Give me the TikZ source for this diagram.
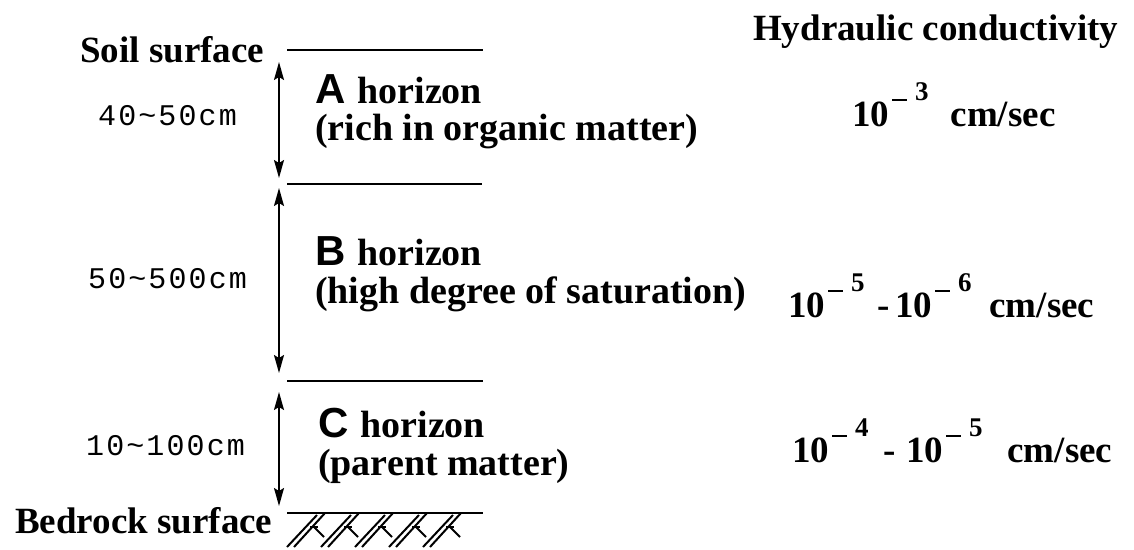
\documentclass[tikz,border=0pt]{standalone}
\usepackage{fontspec}
\setmainfont{Liberation Serif}
\newfontfamily\hsans{Liberation Sans}
\newfontfamily\monofam{Liberation Mono}[LetterSpace=7]
\usetikzlibrary{arrows.meta}
\newcommand\expo[1]{\kern3pt\rule[25pt]{15pt}{1.8pt}\kern8pt\raisebox{26pt}{\fontsize{27}{27}\selectfont #1}}
\newcommand\hl[1]{{\hsans\fontsize{42}{42}\selectfont #1}\kern12pt}
\begin{document}
\begin{tikzpicture}[x=1pt,y=-1pt,
  lbl/.style={inner sep=0pt, anchor=base west, font=\fontsize{37}{40}\selectfont\bfseries},
  hz/.style={inner sep=0pt, anchor=base west, font=\fontsize{38}{40}\selectfont\bfseries},
  dimtxt/.style={inner sep=0pt, anchor=base west, font=\monofam\fontsize{30}{30}\selectfont},
  surf/.style={line width=2.2pt},
  dimarrow/.style={line width=1.7pt, {Stealth[length=18pt,width=10pt,inset=3pt]}-{Stealth[length=18pt,width=10pt,inset=3pt]}},
  hatch/.style={line width=2pt}]
\useasboundingbox (0,0) rectangle (1134,549);
\fill[white] (0,0) rectangle (1134,549);

% left labels
\node[lbl] (soil) at (80,62) {Soil surface};
\node[lbl] (bed) at (15,533) {Bedrock surface};
\node[dimtxt] (dA) at (98,125) {40\textasciitilde 50cm};
\node[dimtxt] (dB) at (88,288) {50\textasciitilde 500cm};
\node[dimtxt] (dC) at (86,455) {10\textasciitilde 100cm};

% horizon lines
\coordinate (l0w) at (287,50);  \coordinate (l0e) at (483,50);
\coordinate (l1w) at (287,184); \coordinate (l1e) at (482,184);
\coordinate (l2w) at (287,381); \coordinate (l2e) at (483,381);
\coordinate (l3w) at (287,513); \coordinate (l3e) at (483,513);
\draw[surf] (l0w) -- (l0e);
\draw[surf] (l1w) -- (l1e);
\draw[surf] (l2w) -- (l2e);
\draw[surf] (l3w) -- (l3e);

% thickness arrows
\coordinate (aA1) at (279,62);  \coordinate (aA2) at (279,178);
\coordinate (aB1) at (279,188); \coordinate (aB2) at (279,373);
\coordinate (aC1) at (279,392); \coordinate (aC2) at (279,506);
\draw[dimarrow] (aA1) -- (aA2);
\draw[dimarrow] (aB1) -- (aB2);
\draw[dimarrow] (aC1) -- (aC2);

% bedrock hatching
\foreach \i in {0,...,4}{
  \pgfmathsetmacro\xo{287+34*\i}
  \draw[hatch] (\xo,547) -- (\xo+30,515);
  \draw[hatch] (\xo+7,547) -- (\xo+38,513);
  \draw[hatch] (\xo+23,527) -- (\xo+31,527);
  \draw[hatch] (\xo+27,527) -- (\xo+37,537);
}

% horizon names
\node[hz] (hA) at (315,103) {\hl{A}horizon};
\node[hz] (hA2) at (315,140) {(rich in organic matter)};
\node[hz] (hB) at (315,265) {\hl{B}horizon};
\node[hz] (hB2) at (315,303) {(high degree of saturation)};
\node[hz] (hC) at (318,437) {\hl{C}horizon};
\node[hz] (hC2) at (318,475) {(parent matter)};

% hydraulic conductivity
\node[lbl] (hc) at (753,40) {Hydraulic conductivity};
\node[lbl] (kA) at (852,126) {10\expo{3}\kern22pt cm/sec};
\node[lbl] (kB) at (788,317) {10\expo{5}\kern13pt-\kern5pt10\expo{6}\kern18pt cm/sec};
\node[lbl] (kC) at (792,462) {10\expo{4}\kern15pt-\kern10pt10\expo{5}\kern25pt cm/sec};
\end{tikzpicture}
\end{document}
